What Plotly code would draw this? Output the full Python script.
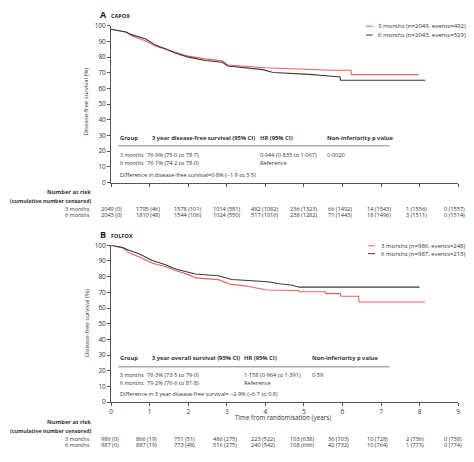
import plotly.graph_objects as go

# Browser page has an 8px body margin, so the figure is drawn 8px in from the corner.
OFF = 8
W, H = 474 - OFF, 462 - OFF
FONT = "Open Sans"
RED = "#e5625f"
BLK = "#3a3a3a"
TXT = "#333333"

# ---------------- data ----------------
years = [0, 1, 2, 3, 4, 5, 6, 7, 8, 9]

a_red_t = [0, 0.39, 0.51, 0.9, 1.16, 1.41, 1.67, 2.0, 2.44, 2.88, 3.03, 3.5, 4.0, 4.5, 5.14, 5.7, 6.22, 6.23, 7.97]
a_red_v = [97.8, 95.8, 94.0, 90.3, 87.0, 85.0, 82.8, 80.6, 78.9, 77.6, 75.0, 74.0, 73.2, 72.7, 71.9, 71.6, 71.6, 68.8, 68.8]
a_blk_t = [0, 0.39, 0.51, 0.9, 1.16, 1.41, 1.67, 2.0, 2.44, 2.88, 3.03, 3.5, 3.94, 4.2, 4.76, 5.14, 5.5, 5.83, 5.94, 5.95, 8.15]
a_blk_v = [97.8, 96.0, 94.5, 91.5, 87.5, 85.3, 82.5, 80.0, 77.8, 76.7, 74.3, 73.2, 72.0, 70.2, 69.6, 69.0, 68.3, 67.3, 67.3, 65.2, 65.2]

b_red_t = [0, 0.3, 0.46, 0.72, 1.07, 1.41, 1.67, 2.01, 2.19, 2.78, 3.08, 3.51, 4.03, 4.87, 4.88, 5.56, 5.57, 5.95, 5.96, 6.42, 6.43, 8.14]
b_red_v = [100, 98.5, 95.2, 92.7, 88.5, 86.5, 83.9, 81.3, 79.2, 78.1, 75.2, 74.0, 71.5, 71.2, 70.4, 70.4, 69.2, 69.2, 67.5, 67.5, 63.8, 63.8]
b_blk_t = [0, 0.3, 0.46, 0.72, 1.07, 1.41, 1.67, 2.01, 2.19, 2.78, 3.13, 3.55, 4.06, 4.37, 4.7, 4.88, 8.0]
b_blk_v = [100, 98.5, 96.8, 94.6, 90.3, 87.6, 84.9, 82.7, 81.7, 80.6, 78.2, 77.6, 76.8, 75.5, 74.5, 73.3, 73.3]

a_legend = ["3 months (n=2049, events=492)", "6 months (n=2043, events=529)"]
b_legend = ["3 months (n=986, events=248)", "6 months (n=987, events=213)"]

a_risk_3 = ["2049 (0)", "1795 (46)", "1578 (101)", "1014 (581)", "482 (1082)", "236 (1323)", "66 (1492)", "14 (1543)", "1 (1556)", "0 (1557)"]
a_risk_6 = ["2043 (0)", "1810 (48)", "1544 (106)", "1024 (550)", "517 (1016)", "238 (1282)", "71 (1443)", "18 (1496)", "3 (1511)", "0 (1514)"]
b_risk_3 = ["986 (0)", "866 (19)", "751 (51)", "486 (275)", "223 (522)", "103 (638)", "36 (703)", "10 (728)", "2 (736)", "0 (738)"]
b_risk_6 = ["987 (0)", "887 (19)", "773 (48)", "516 (275)", "240 (542)", "108 (666)", "42 (732)", "10 (764)", "1 (773)", "0 (774)"]

a_table_head = ["Group", "3 year disease-free survival (95% CI)", "HR (95% CI)", "Non-inferiority p value"]
a_row3 = ["3 months", "76·9% (75·0 to 78·7)", "0·944 (0·835 to 1·067)", "0·0020"]
a_row6 = ["6 months", "76·1% (74·2 to 78·0)", "Reference", ""]
a_diff = "Difference in disease-free survival=0·8% (−1·9 to 3·5)"

b_table_head = ["Group", "3 year overall survival (95% CI)", "HR (95% CI)", "Non-inferiority p value"]
b_row3 = ["3 months", "76·3% (73·5 to 79·0)", "1·158 (0·964 to 1·391)", "0·59"]
b_row6 = ["6 months", "79·2% (76·6 to 81·8)", "Reference", ""]
b_diff = "Difference in 3 year disease-free survival= −2·9% (−6·7 to 0·8)"


def X(px):
    return (px - OFF) / W


def Y(py):
    return 1 - (py - OFF) / H


fig = go.Figure()
fig.add_trace(go.Scatter(x=a_red_t, y=a_red_v, mode="lines", line=dict(color=RED, width=1.1), xaxis="x", yaxis="y", showlegend=False))
fig.add_trace(go.Scatter(x=a_blk_t, y=a_blk_v, mode="lines", line=dict(color=BLK, width=1.1), xaxis="x", yaxis="y", showlegend=False))
fig.add_trace(go.Scatter(x=b_red_t, y=b_red_v, mode="lines", line=dict(color=RED, width=1.1), xaxis="x2", yaxis="y2", showlegend=False))
fig.add_trace(go.Scatter(x=b_blk_t, y=b_blk_v, mode="lines", line=dict(color=BLK, width=1.1), xaxis="x2", yaxis="y2", showlegend=False))

axis_common = dict(showline=True, linecolor="#555", linewidth=1, showgrid=False, zeroline=False,
                   ticks="outside", ticklen=3, tickcolor="#555", tickwidth=1,
                   tickfont=dict(family=FONT, size=6.5, color=TXT))

fig.update_layout(
    width=W, height=H, margin=dict(l=0, r=0, t=0, b=0),
    paper_bgcolor="white", plot_bgcolor="white",
    xaxis=dict(domain=[X(110), X(460)], range=[0, 9], tickvals=years, showticklabels=False, anchor="y", **axis_common),
    yaxis=dict(domain=[Y(181), Y(21)], range=[0, 100], tickvals=list(range(0, 101, 10)), anchor="x", **axis_common),
    xaxis2=dict(domain=[X(110), X(460)], range=[0, 9], tickvals=years, anchor="y2", **axis_common),
    yaxis2=dict(domain=[Y(405), Y(245)], range=[0, 100], tickvals=list(range(0, 101, 10)), anchor="x2", **axis_common),
)

ann = []
shapes = []


def txt(px, py, s, size=6, bold=False, anchor="left", color=TXT, angle=0):
    if bold:
        s = "<b>" + s + "</b>"
    ann.append(dict(x=X(px), y=Y(py), xref="paper", yref="paper", text=s, showarrow=False,
                    xanchor=anchor, yanchor="middle", textangle=angle,
                    font=dict(family=FONT, size=size, color=color)))


# Panel titles
txt(97, 10, "A", size=9, bold=True, color="#222")
txt(108, 11, "CAPOX", size=5.5, bold=True, color="#222")
txt(97, 234, "B", size=9, bold=True, color="#222")
txt(108, 235, "FOLFOX", size=5.5, bold=True, color="#222")

# Y axis titles
txt(85, 98, "Disease-free survival (%)", size=6, anchor="center", angle=-90)
txt(85, 324, "Disease-free survival (%)", size=6, anchor="center", angle=-90)

# X axis title
txt(283, 421, "Time from randomisation (years)", size=6.3, anchor="center")

# Legends
for (ly, col, lab) in [(21.5, RED, a_legend[0]), (30.5, BLK, a_legend[1])]:
    shapes.append(dict(type="line", xref="paper", yref="paper", x0=X(367), x1=X(374), y0=Y(ly), y1=Y(ly), line=dict(color=col, width=1)))
    txt(377, ly, lab, size=6)
for (ly, col, lab) in [(245.5, RED, b_legend[0]), (253.5, BLK, b_legend[1])]:
    shapes.append(dict(type="line", xref="paper", yref="paper", x0=X(369), x1=X(376), y0=Y(ly), y1=Y(ly), line=dict(color=col, width=1)))
    txt(380, ly, lab, size=6)


def table(y0, head, r3, r6, diff, cols, line_y):
    for c, s in zip(cols, head):
        txt(c, y0, s, size=5.8, bold=True)
    shapes.append(dict(type="line", xref="paper", yref="paper", x0=X(117), x1=X(391), y0=Y(line_y), y1=Y(line_y), line=dict(color="#666", width=0.8)))
    rc = [117, 144, cols[2], cols[3]]
    for c, s in zip(rc, r3):
        txt(c, y0 + 17, s, size=5.3 if c == 117 else 5.7)
    for c, s in zip(rc, r6):
        txt(c, y0 + 25, s, size=5.3 if c == 117 else 5.7)
    txt(117, y0 + 37, diff, size=5.6)


table(136, a_table_head, a_row3, a_row6, a_diff, [117, 149, 258, 326], 143.5)
table(360, b_table_head, b_row3, b_row6, b_diff, [117, 149, 242, 311], 369)


def risk(y0, r3, r6, xref):
    txt(92, y0, "Number at risk", size=5.8, bold=True, anchor="right")
    txt(92, y0 + 9, "(cumulative number censored)", size=5.3, bold=True, anchor="right")
    txt(91, y0 + 17, "3 months", size=5.5, anchor="right")
    txt(91, y0 + 23.5, "6 months", size=5.5, anchor="right")
    for yr, s3, s6 in zip(years, r3, r6):
        for s, dy in [(s3, 17), (s6, 23.5)]:
            ann.append(dict(x=yr, y=Y(y0 + dy), xref=xref, yref="paper", text=s, showarrow=False,
                            xanchor="left", xshift=-12 if yr == 0 else -16, yanchor="middle",
                            font=dict(family=FONT, size=5.6, color=TXT)))


risk(191, a_risk_3, a_risk_6, "x")
risk(425.5, b_risk_3, b_risk_6, "x2")

fig.update_layout(annotations=ann, shapes=shapes)
fig.write_html("out.html")
